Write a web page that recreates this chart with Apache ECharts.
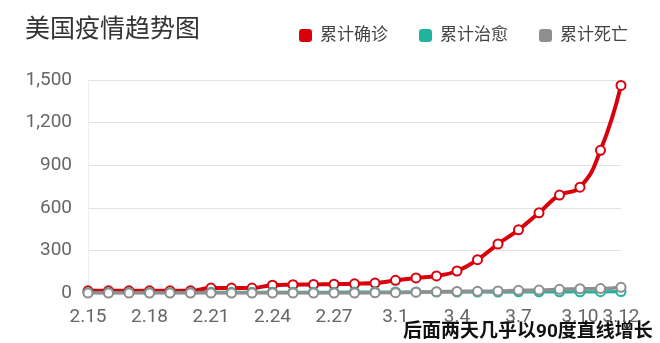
<!DOCTYPE html>
<html><head><meta charset="utf-8">
<script src="https://cdn.jsdelivr.net/npm/echarts@6/dist/echarts.min.js"></script>
<style>html,body{margin:0;padding:0;background:#fff}#c{width:660px;height:343px}</style>
</head><body><div id="c"></div>
<script>
const categories = ['2.15','2.16','2.17','2.18','2.19','2.20','2.21','2.22','2.23','2.24','2.25','2.26','2.27','2.28','2.29','3.1','3.2','3.3','3.4','3.5','3.6','3.7','3.8','3.9','3.10','3.11','3.12'];
const confirmed = [15,15,15,15,15,15,35,35,35,55,58,60,62,65,70,89,106,120,155,235,345,445,565,690,745,1005,1462];
const recovered = [3,3,3,3,3,3,5,5,5,6,6,6,6,7,7,7,7,7,7,7,7,8,8,8,8,9,10];
const deaths = [0,0,0,0,0,0,0,0,0,0,0,0,0,0,1,2,6,9,11,12,14,19,21,26,30,31,40];
const names = ['累计确诊','累计治愈','累计死亡'];
const yTicks = [0,300,600,900,1200,1500];
const colors = ['#d9000d','#22b39f','#8f8f8f'];
const font = "Roboto, 'Noto Sans CJK SC', sans-serif";

const chart = echarts.init(document.getElementById('c'));
function mk(name, data, color, w){
  return {name, type:'line', data, smooth:true, symbol:'emptyCircle', symbolSize:9,
    lineStyle:{color, width:w}, itemStyle:{color, borderWidth:2}, emphasis:{disabled:true}};
}
chart.setOption({
  animation:false,
  color: colors,
  textStyle:{fontFamily:font},
  title:{text:'美国疫情趋势图', left:20, top:13, textStyle:{fontSize:25, fontWeight:'normal', color:'#333', fontFamily:font}},
  legend:{left:294, top:22, itemWidth:13, itemHeight:13, itemGap:31, icon:'roundRect',
    textStyle:{fontSize:17, color:'#444', padding:[0,0,0,3], fontFamily:font}, data:names},
  grid:{left:88, right:39, top:80, bottom:50},
  xAxis:{type:'category', data:categories, boundaryGap:false,
    axisLine:{show:true, lineStyle:{color:'#ddd'}}, axisTick:{show:false},
    axisLabel:{fontSize:19, color:'#666', margin:15, fontFamily:font,
      interval:function(i){return i%3===0 || i===categories.length-1;}}},
  yAxis:{type:'value', min:yTicks[0], max:yTicks[yTicks.length-1], interval:300,
    axisLine:{show:true, lineStyle:{color:'#eee'}}, axisTick:{show:false},
    splitLine:{lineStyle:{color:'#e2e2e2'}},
    axisLabel:{fontSize:19, color:'#666', margin:16, fontFamily:font}},
  series:[mk(names[0], confirmed, colors[0], 4), mk(names[1], recovered, colors[1], 3), mk(names[2], deaths, colors[2], 3.5)],
  graphic:[{type:'text', left:403, top:323, style:{text:'后面两天几乎以90度直线增长', fill:'#111', font:"bold 19px Roboto, 'Noto Sans CJK SC', sans-serif"}}]
});
</script></body></html>
